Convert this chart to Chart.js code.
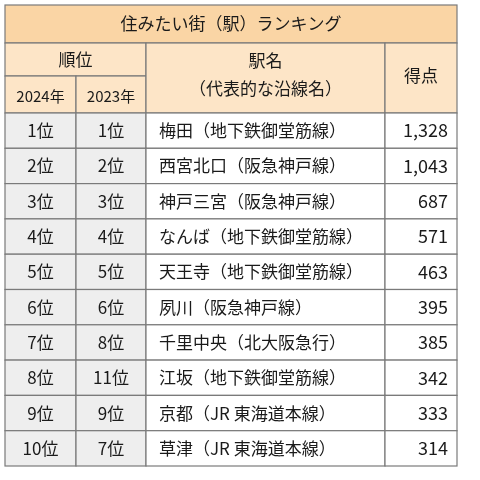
<!DOCTYPE html>
<html><head><meta charset="utf-8">
<script src="https://cdn.jsdelivr.net/npm/chart.js@4"></script>
<style>html,body{margin:0;padding:0;background:#fff}#wrap{width:480px;height:480px}</style>
</head><body><div id="wrap"><canvas id="table-chart"></canvas></div>
<script>
const title = '住みたい街（駅）ランキング';
const rank2024 = ['1位','2位','3位','4位','5位','6位','7位','8位','9位','10位'];
const rank2023 = ['1位','2位','3位','4位','5位','6位','8位','11位','9位','7位'];
const stations = ['梅田（地下鉄御堂筋線）','西宮北口（阪急神戸線）','神戸三宮（阪急神戸線）','なんば（地下鉄御堂筋線）','天王寺（地下鉄御堂筋線）','夙川（阪急神戸線）','千里中央（北大阪急行）','江坂（地下鉄御堂筋線）','京都（JR 東海道本線）','草津（JR 東海道本線）'];
const scores = [1328, 1043, 687, 571, 463, 395, 385, 342, 333, 314];

const colX = [5, 76, 146, 385, 457];
const titleY = [5, 43];
const headY = [43, 76, 113];
const rowH = 35.3;
const FONT = '"Noto Sans CJK JP", sans-serif';

const tablePlugin = {
  id: 'tablePlugin',
  afterDraw(chart) {
    const c = chart.ctx, xs = chart.scales.x, ys = chart.scales.y;
    const X = v => xs.getPixelForValue(v), Y = v => ys.getPixelForValue(v);
    const rect = (x0, y0, x1, y1, fill) => {
      c.fillStyle = fill; c.fillRect(X(x0), Y(y0), X(x1) - X(x0), Y(y1) - Y(y0));
      c.strokeStyle = '#7a7a7a'; c.lineWidth = 1.2;
      c.strokeRect(X(x0), Y(y0), X(x1) - X(x0), Y(y1) - Y(y0));
    };
    const text = (s, x, y, align, size) => {
      c.fillStyle = '#1a1a1a'; c.font = (size || 17) + 'px ' + FONT; c.textAlign = align; c.textBaseline = 'middle';
      c.fillText(s, X(x), Y(y));
    };
    rect(colX[0], titleY[0], colX[4], titleY[1], '#fad5a5');
    text(title, (colX[0] + colX[4]) / 2, 24, 'center');
    rect(colX[0], headY[0], colX[2], headY[1], '#fde5c7');
    text('順位', (colX[0] + colX[2]) / 2, 60, 'center');
    rect(colX[0], headY[1], colX[1], headY[2], '#fde5c7');
    rect(colX[1], headY[1], colX[2], headY[2], '#fde5c7');
    text('2024年', (colX[0] + colX[1]) / 2, 96, 'center', 15);
    text('2023年', (colX[1] + colX[2]) / 2, 96, 'center', 15);
    rect(colX[2], headY[0], colX[3], headY[2], '#fde5c7');
    text('駅名', (colX[2] + colX[3]) / 2, 61, 'center');
    text('（代表的な沿線名）', (colX[2] + colX[3]) / 2, 89, 'center');
    rect(colX[3], headY[0], colX[4], headY[2], '#fde5c7');
    text('得点', (colX[3] + colX[4]) / 2, 76, 'center');
    stations.forEach((s, i) => {
      const y0 = headY[2] + i * rowH, y1 = y0 + rowH, ym = (y0 + y1) / 2;
      rect(colX[0], y0, colX[1], y1, '#eeeeee');
      rect(colX[1], y0, colX[2], y1, '#eeeeee');
      rect(colX[2], y0, colX[3], y1, '#ffffff');
      rect(colX[3], y0, colX[4], y1, '#ffffff');
      text(rank2024[i], (colX[0] + colX[1]) / 2, ym, 'center');
      text(rank2023[i], (colX[1] + colX[2]) / 2, ym, 'center');
      text(s, colX[2] + 13, ym, 'left');
      text(scores[i].toLocaleString('en-US'), colX[4] - 9, ym, 'right', 18);
    });
  }
};

new Chart(document.getElementById('table-chart'), {
  type: 'scatter',
  data: { datasets: [{ data: [] }] },
  options: {
    responsive: true, maintainAspectRatio: false, animation: false,
    layout: { padding: 0 },
    plugins: { legend: { display: false }, tooltip: { enabled: false } },
    scales: {
      x: { type: 'linear', min: 0, max: 480, display: false },
      y: { type: 'linear', min: 0, max: 480, reverse: true, display: false }
    }
  },
  plugins: [tablePlugin]
});
</script></body></html>
